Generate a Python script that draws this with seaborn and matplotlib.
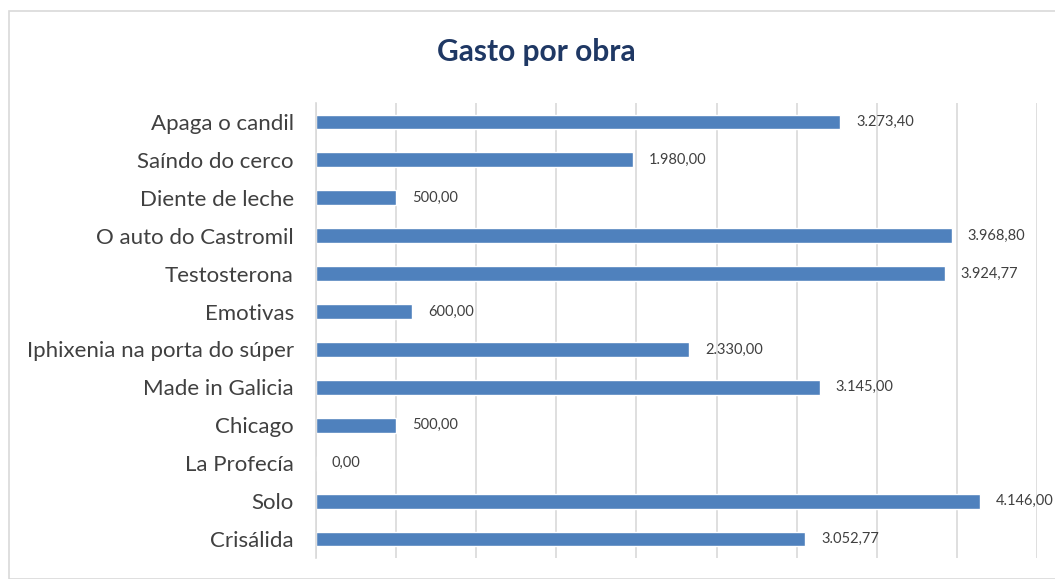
import matplotlib.pyplot as plt
import pandas as pd
import seaborn as sns
from matplotlib.patches import Rectangle

obras = ['Apaga o candil', 'Saíndo do cerco', 'Diente de leche', 'O auto do Castromil',
         'Testosterona', 'Emotivas', 'Iphixenia na porta do súper', 'Made in Galicia',
         'Chicago', 'La Profecía', 'Solo', 'Crisálida']
gasto = [3273.40, 1980.00, 500.00, 3968.80, 3924.77, 600.00, 2330.00, 3145.00,
         500.00, 0.00, 4146.00, 3052.77]

def fmt_es(v):
    # 3273.4 -> 3.273,40
    s = f'{v:,.2f}'
    return s.replace(',', 'X').replace('.', ',').replace('X', '.')

df = pd.DataFrame({'obra': obras, 'gasto': gasto})

sns.set_theme(style='white')
plt.rcParams['font.family'] = ['Lato', 'DejaVu Sans']

fig = plt.figure(figsize=(10.55, 5.79), dpi=100)
ax = fig.add_axes([316 / 1055, 1 - 558 / 579, (1037 - 316) / 1055, (558 - 103) / 579])

sns.barplot(data=df, x='gasto', y='obra', orient='h', color='#4F81BD',
            saturation=1, width=0.39, ax=ax)

ax.set_xlim(0, 4500)
ax.set_xticks(range(0, 4501, 500))
ax.xaxis.grid(True, color='#D9D9D9', linewidth=1.2)
ax.set_axisbelow(True)
ax.tick_params(axis='x', labelbottom=False, length=0)
ax.tick_params(axis='y', length=0, labelsize=16, colors='#404040', pad=16)
for s in ['top', 'right', 'bottom']:
    ax.spines[s].set_visible(False)
ax.spines['left'].set_color('#D9D9D9')
ax.spines['left'].set_linewidth(1.2)
ax.set_xlabel('')
ax.set_ylabel('')

for i, v in enumerate(gasto):
    ax.annotate(fmt_es(v), xy=(v, i), xytext=(11.5, 0), textcoords='offset points',
                va='center', ha='left', fontsize=10.5, color='#404040')

fig.text(536 / 1055, 1 - 52 / 579, 'Gasto por obra', ha='center', va='center',
         fontsize=21.5, fontweight='bold', color='#1F3864')

fig.patches.append(Rectangle((9 / 1055, 0), 1.1, 1 - 11 / 579, transform=fig.transFigure,
                             fill=False, edgecolor='#D9D9D9', linewidth=1.2))

fig.savefig('out.png', dpi=100)
